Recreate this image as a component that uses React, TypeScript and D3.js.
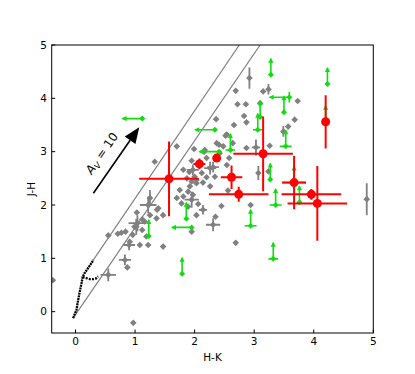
import React from "react";
import * as d3 from "d3";

const W = 415;
const H = 374;

const xTicks = [0, 1, 2, 3, 4, 5];
const yTicks = [0, 1, 2, 3, 4, 5];
const xLabel = "H-K";
const yLabel = "J-H";

// Grey sources: H-K, J-H, errors
const greyHK = [2.92, 2.69, 3.15, 3.24, 2.72, 2.86, 3.10, 3.73, 2.83, 2.87, 2.66, 3.68, 3.57, 3.49, 2.54, 2.64, 2.87, 3.26, 2.36, 2.37, 2.52, 2.17, 3.03, 2.58, 2.26, 3.07, 3.24, 2.48, 2.42, 2.54, 2.56, 2.94, 2.45, 2.35, 2.14, 2.31, 2.69, 4.89,
  1.70, 1.99, 2.16, 2.20, 1.97, 2.31, 2.12, 2.20, 2.03, 2.14, 2.26, 1.33, 1.95, 2.41, 1.81, 1.91, 2.00, 1.87, 1.95, 2.03, 1.92, 1.89, 1.97, 1.95, 2.34, 1.75, 1.81, 1.70, 1.78, 1.89, 2.06, 1.47, 2.03, 1.39, 1.36, 1.25, 1.16, 1.95, 1.02,
  1.03, 1.22, 1.25, 1.37, 1.12, 0.99, 1.04, 1.12, 0.96, 1.19, 0.91, 0.90, 1.08, 1.22, 0.71, 0.77, 0.84, 0.55, 1.47, 0.83, 0.87, 0.55, -0.38, 0.97];
const greyJH = [4.38, 4.14, 4.13, 4.17, 3.89, 3.89, 3.91, 3.95, 3.67, 3.55, 3.50, 3.60, 3.47, 3.38, 3.32, 3.16, 3.07, 3.11, 3.61, 3.16, 3.30, 3.03, 3.08, 2.88, 2.69, 2.60, 2.63, 3.10, 2.97, 2.75, 2.27, 2.00, 1.98, 1.78, 1.91, 1.63, 1.29, 2.11,
  3.10, 3.05, 3.00, 2.88, 2.66, 2.71, 2.60, 2.52, 2.47, 2.42, 2.35, 2.81, 2.83, 3.13, 2.66, 2.62, 2.53, 2.50, 2.44, 2.41, 2.35, 2.25, 2.19, 2.10, 2.53, 2.28, 2.16, 2.13, 2.03, 1.97, 2.02, 1.81, 1.81, 1.94, 1.75, 2.13, 1.69, 1.50, 1.59,
  1.86, 2.00, 1.81, 1.91, 1.73, 1.59, 1.66, 1.53, 1.44, 1.41, 1.31, 1.25, 1.25, 1.25, 1.46, 1.48, 1.50, 1.43, 1.22, 0.97, 0.83, 0.69, 0.59, -0.21];
const greyErrHK = [0, 0, 0, 0, 0, 0, 0, 0, 0, 0, 0, 0, 0, 0, 0, 0, 0, 0, 0, 0, 0, 0, 0.07, 0, 0.1, 0, 0, 0, 0, 0, 0, 0, 0, 0, 0.07, 0.12, 0, 0.04,
  0, 0, 0, 0, 0.1, 0.1, 0, 0, 0, 0, 0, 0, 0, 0, 0, 0, 0, 0, 0, 0, 0, 0, 0, 0.12, 0, 0, 0, 0, 0, 0, 0, 0, 0, 0, 0, 0, 0, 0, 0,
  0, 0.14, 0, 0, 0, 0, 0.15, 0, 0, 0, 0, 0.1, 0, 0, 0, 0, 0, 0, 0, 0.1, 0, 0.13, 0, 0];
const greyErrJH = [0.2, 0, 0, 0.1, 0, 0, 0, 0, 0, 0, 0, 0, 0, 0.1, 0, 0, 0, 0, 0, 0, 0, 0, 0.15, 0, 0.12, 0.13, 0, 0, 0, 0, 0, 0, 0, 0, 0.09, 0.12, 0, 0.3,
  0, 0, 0, 0, 0.1, 0.1, 0, 0, 0, 0, 0, 0, 0, 0, 0, 0, 0, 0, 0, 0, 0, 0, 0, 0.15, 0, 0, 0, 0, 0, 0, 0, 0, 0, 0, 0, 0.15, 0, 0, 0.15,
  0, 0.16, 0, 0, 0, 0, 0.15, 0, 0, 0, 0, 0.1, 0, 0, 0, 0, 0, 0, 0, 0.1, 0, 0.12, 0, 0];

// Green limits: H-K, J-H, direction, errors
const greenHK = [1.12, 3.28, 4.23, 3.59, 3.50, 3.10, 3.06, 3.53, 2.60, 2.34, 2.41, 3.27, 3.36, 2.94, 3.32, 3.76, 3.67, 1.86, 1.95, 1.79, 1.23, 4.20];
const greenJH = [3.62, 4.44, 4.27, 4.02, 3.74, 3.65, 3.41, 3.10, 3.03, 3.41, 3.00, 2.48, 2.00, 1.61, 0.99, 2.05, 2.42, 1.74, 1.58, 0.71, 1.42, 3.56];
const greenDir = ["left", "up", "up", "left", "up", "up", "up", "up", "up", "left", "left", "up", "up", "up", "up", "up", "up", "up", "left", "up", "up", "up"];
const greenErrHK = [0, 0, 0, 0, 0, 0, 0.08, 0.1, 0.08, 0, 0, 0, 0.1, 0.1, 0.08, 0, 0.2, 0, 0, 0, 0, 0];
const greenErrJH = [0, 0, 0, 0.1, 0, 0, 0, 0, 0, 0, 0, 0, 0, 0, 0, 0, 0, 0, 0, 0, 0, 0];

// Red sources
const redHK = [1.57, 2.08, 2.37, 3.15, 2.62, 2.74, 3.67, 3.96, 4.06, 4.20];
const redJH = [2.49, 2.77, 2.88, 2.96, 2.52, 2.20, 2.42, 2.20, 2.03, 3.56];
const redErrHK = [0.5, 0.1, 0, 0.5, 0.18, 0.5, 0.2, 0.5, 0.5, 0];
const redErrJH = [0.7, 0.1, 0, 0.7, 0.22, 0.14, 0.5, 0.1, 0.7, 0.5];

// Intrinsic locus (dwarfs + giants)
const locusHK = [-0.04, 0.015, 0.04, 0.07, 0.1, 0.12, 0.15, 0.2, 0.25, 0.3];
const locusJH = [-0.12, 0.03, 0.19, 0.37, 0.53, 0.65, 0.72, 0.8, 0.88, 0.97];
const dwarfHK = [0.12, 0.18, 0.24, 0.3, 0.34, 0.38];
const dwarfJH = [0.65, 0.63, 0.61, 0.61, 0.62, 0.66];

// Reddening band lines [x0, y0, x1, y1]
const bandUpper = [0.3, 0.97, 2.75, 5];
const bandLower = [-0.04, -0.12, 3.1, 5];

// Extinction vector
const avArrow = [0.3, 2.22, 1.07, 3.46];
const avLabelPos = [0.44, 2.97];

const GREY = "#808080";
const GREEN = "#10dd10";
const RED = "#ff0000";

const diamond = (r: number) => `M0,${-r}L${r},0L0,${r}L${-r},0Z`;

export default function App() {
  const x = d3.scaleLinear().domain([-0.4, 5]).range([51.7, 373.3]);
  const y = d3.scaleLinear().domain([-0.4, 5]).range([333, 45]);
  const [x0, x1] = x.range();
  const [y0, y1] = y.range();

  const line = d3
    .line<[number, number]>()
    .x((d) => x(d[0]))
    .y((d) => y(d[1]));

  const locus = locusHK.map((v, i) => [v, locusJH[i]] as [number, number]);
  const dwarf = dwarfHK.map((v, i) => [v, dwarfJH[i]] as [number, number]);

  // arrow geometry
  const ax0 = x(avArrow[0]), ay0 = y(avArrow[1]), ax1 = x(avArrow[2]), ay1 = y(avArrow[3]);
  const ang = Math.atan2(ay1 - ay0, ax1 - ax0);
  const angDeg = (ang * 180) / Math.PI;
  const headL = 16, headW = 6.5;
  const bx = ax1 - headL * Math.cos(ang), by = ay1 - headL * Math.sin(ang);
  const px = -Math.sin(ang), py = Math.cos(ang);
  const head = `M${ax1},${ay1}L${bx + headW * px},${by + headW * py}L${bx - headW * px},${by - headW * py}Z`;

  return (
    <svg
      width={W}
      height={H}
      style={{ position: "absolute", left: 0, top: 0, background: "#fff" }}
      fontFamily="DejaVu Sans, sans-serif"
    >
      <defs>
        <clipPath id="plot">
          <rect x={x0} y={y1} width={x1 - x0} height={y0 - y1} />
        </clipPath>
      </defs>
      <rect width={W} height={H} fill="#fff" />
      <g clipPath="url(#plot)">
        {/* reddening band */}
        {[bandUpper, bandLower].map((b, i) => (
          <line key={i} x1={x(b[0])} y1={y(b[1])} x2={x(b[2])} y2={y(b[3])} stroke={GREY} strokeWidth={1.2} />
        ))}
        {/* locus */}
        <path d={line(locus) || ""} fill="none" stroke="#000" strokeWidth={2.3} strokeDasharray="2 0.7" />
        <path d={line(dwarf) || ""} fill="none" stroke="#000" strokeWidth={2.3} strokeDasharray="2 1.2" />

        {/* grey sources */}
        {greyHK.map((v, i) => {
          const cx = x(v), cy = y(greyJH[i]);
          const ex = greyErrHK[i], ey = greyErrJH[i];
          return (
            <g key={"g" + i}>
              {ex > 0 && <line x1={x(v - ex)} x2={x(v + ex)} y1={cy} y2={cy} stroke={GREY} strokeWidth={1.8} />}
              {ey > 0 && <line x1={cx} x2={cx} y1={y(greyJH[i] - ey)} y2={y(greyJH[i] + ey)} stroke={GREY} strokeWidth={1.8} />}
              <path d={diamond(3.3)} transform={`translate(${cx},${cy})`} fill={GREY} />
            </g>
          );
        })}

        {/* green limits */}
        {greenHK.map((v, i) => {
          const cx = x(v), cy = y(greenJH[i]);
          const ex = greenErrHK[i], ey = greenErrJH[i];
          const up = greenDir[i] === "up";
          const ex2 = up ? cx : x(v - 0.33);
          const ey2 = up ? y(greenJH[i] + 0.3) : cy;
          const hl = 5, hw = 2.6;
          const tri = up
            ? `M${ex2},${ey2 - 1}L${ex2 - hw},${ey2 - 1 + hl}L${ex2 + hw},${ey2 - 1 + hl}Z`
            : `M${ex2 - 1},${ey2}L${ex2 - 1 + hl},${ey2 - hw}L${ex2 - 1 + hl},${ey2 + hw}Z`;
          return (
            <g key={"gr" + i}>
              {ex > 0 && <line x1={x(v - ex)} x2={x(v + ex)} y1={cy} y2={cy} stroke={GREEN} strokeWidth={1.6} />}
              {ey > 0 && <line x1={cx} x2={cx} y1={y(greenJH[i] - ey)} y2={y(greenJH[i] + ey)} stroke={GREEN} strokeWidth={1.6} />}
              <line x1={cx} y1={cy} x2={ex2} y2={ey2} stroke={GREEN} strokeWidth={1.6} />
              <path d={tri} fill={GREEN} />
              <path d={diamond(3)} transform={`translate(${cx},${cy})`} fill={GREEN} />
            </g>
          );
        })}

        {/* red sources */}
        {redHK.map((v, i) => {
          const cx = x(v), cy = y(redJH[i]);
          const ex = redErrHK[i], ey = redErrJH[i];
          return (
            <g key={"r" + i}>
              {ex > 0 && <line x1={x(v - ex)} x2={x(v + ex)} y1={cy} y2={cy} stroke={RED} strokeWidth={2} />}
              {ey > 0 && <line x1={cx} x2={cx} y1={y(redJH[i] - ey)} y2={y(redJH[i] + ey)} stroke={RED} strokeWidth={2} />}
              <circle cx={cx} cy={cy} r={4.5} fill={RED} />
            </g>
          );
        })}

        {/* extinction arrow */}
        <line x1={ax0} y1={ay0} x2={bx} y2={by} stroke="#000" strokeWidth={1.6} />
        <path d={head} fill="#000" />
      </g>

      <text
        transform={`translate(${x(avLabelPos[0])},${y(avLabelPos[1])}) rotate(${angDeg})`}
        textAnchor="middle"
        fontSize={12}
        dy="0.35em"
      >
        <tspan fontStyle="italic">A</tspan>
        <tspan fontStyle="italic" fontSize={8.5} dy="2.5">V</tspan>
        <tspan dy="-2.5">{" = 10"}</tspan>
      </text>

      {/* frame */}
      <rect x={x0} y={y1} width={x1 - x0} height={y0 - y1} fill="none" stroke="#000" strokeWidth={1} />

      {/* ticks */}
      {xTicks.map((t) => (
        <g key={"xt" + t}>
          <line x1={x(t)} x2={x(t)} y1={y0} y2={y0 - 3.5} stroke="#000" strokeWidth={1} />
          <text x={x(t)} y={345} textAnchor="middle" fontSize={10.5}>{t}</text>
        </g>
      ))}
      {yTicks.map((t) => (
        <g key={"yt" + t}>
          <line x1={x0} x2={x0 + 3.5} y1={y(t)} y2={y(t)} stroke="#000" strokeWidth={1} />
          <text x={47} y={y(t)} dy="0.36em" textAnchor="end" fontSize={10.5}>{t}</text>
        </g>
      ))}
      <text x={(x0 + x1) / 2} y={361} textAnchor="middle" fontSize={10.5}>{xLabel}</text>
      <text transform={`translate(35,${(y0 + y1) / 2}) rotate(-90)`} textAnchor="middle" fontSize={10.5}>{yLabel}</text>
    </svg>
  );
}
